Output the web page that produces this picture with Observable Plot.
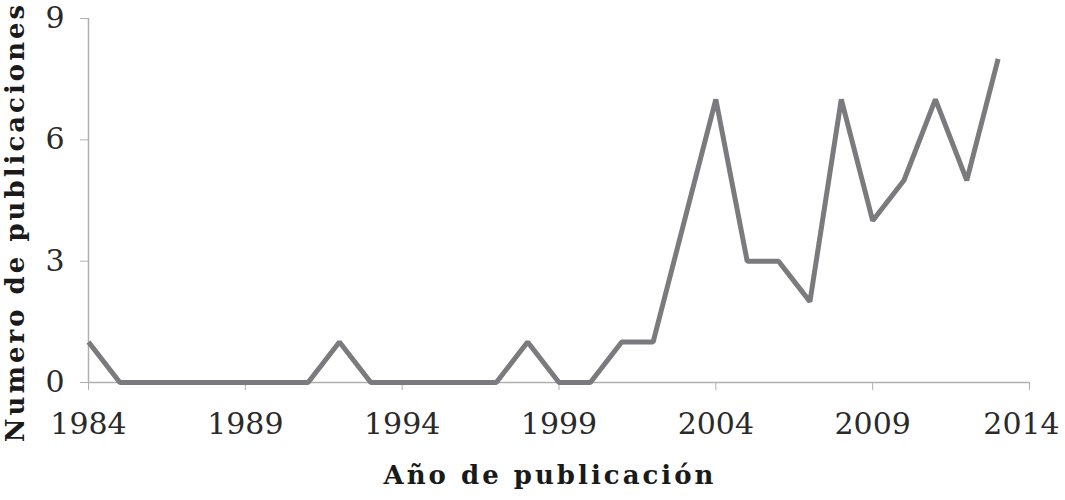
<!DOCTYPE html>
<html>
<head>
<meta charset="utf-8">
<script src="https://cdn.jsdelivr.net/npm/d3@7"></script>
<script src="https://cdn.jsdelivr.net/npm/@observablehq/plot@0.6"></script>
<style>
  html, body { margin: 0; padding: 0; background: #fff; }
  svg { display: block; }
</style>
</head>
<body>
<div id="chart"></div>
<script>
const years = [1984,1985,1986,1987,1988,1989,1990,1991,1992,1993,1994,1995,1996,1997,1998,1999,2000,2001,2002,2003,2004,2005,2006,2007,2008,2009,2010,2011,2012,2013];
const counts = [1,0,0,0,0,0,0,0,1,0,0,0,0,0,1,0,0,1,1,4,7,3,3,2,7,4,5,7,5,8];
const xTicks = [1984,1989,1994,1999,2004,2009,2014];
const yTicks = [0,3,6,9];
const xTitle = "Año de publicación";
const yTitle = "Numero de publicaciones";

const data = years.map((y, i) => ({year: y, n: counts[i]}));

const W = 1065, H = 500;
const chart = Plot.plot({
  width: W,
  height: H,
  marginLeft: 88,
  marginRight: 36,
  marginTop: 18,
  marginBottom: 118,
  style: {fontFamily: "'DejaVu Serif', serif", background: "#fff"},
  x: {domain: [1984, 2014]},
  y: {domain: [0, 9]},
  marks: [
    Plot.ruleY([0], {stroke: "#b0b0b0", strokeWidth: 1.5, x1: 1984, x2: 2014}),
    Plot.ruleX([1984], {stroke: "#b0b0b0", strokeWidth: 1.5}),
    Plot.axisX({ticks: xTicks, tickFormat: d3.format("d"), tickSize: 8, tickPadding: 22, stroke: "#b0b0b0", fill: "#2a2a2a", fontSize: 30, label: null}),
    Plot.axisY({ticks: yTicks, tickSize: 8, tickPadding: 16, stroke: "#b0b0b0", fill: "#2a2a2a", fontSize: 30, label: null}),
    Plot.line(data, {x: "year", y: "n", stroke: "#7b7b7f", strokeWidth: 5, strokeLinejoin: "miter", strokeLinecap: "butt"})
  ]
});
document.getElementById("chart").appendChild(chart);

const svg = d3.select(chart);
// nudge the last x tick label inward so it stays inside the frame
const xLabels = svg.selectAll("g[aria-label='x-axis tick label'] text").nodes();
if (xLabels.length) {
  const last = d3.select(xLabels[xLabels.length - 1]);
  last.attr("dx", -8);
}
svg.append("text")
  .attr("x", 550).attr("y", 484)
  .attr("text-anchor", "middle")
  .attr("font-family", "'DejaVu Serif', serif")
  .attr("font-weight", "bold")
  .attr("font-size", 26)
  .attr("letter-spacing", 3)
  .attr("fill", "#1a1a1a")
  .text(xTitle);
svg.append("text")
  .attr("transform", "translate(24,222) rotate(-90)")
  .attr("text-anchor", "middle")
  .attr("font-family", "'DejaVu Serif', serif")
  .attr("font-weight", "bold")
  .attr("font-size", 26)
  .attr("letter-spacing", 3)
  .attr("fill", "#1a1a1a")
  .text(yTitle);
</script>
</body>
</html>
